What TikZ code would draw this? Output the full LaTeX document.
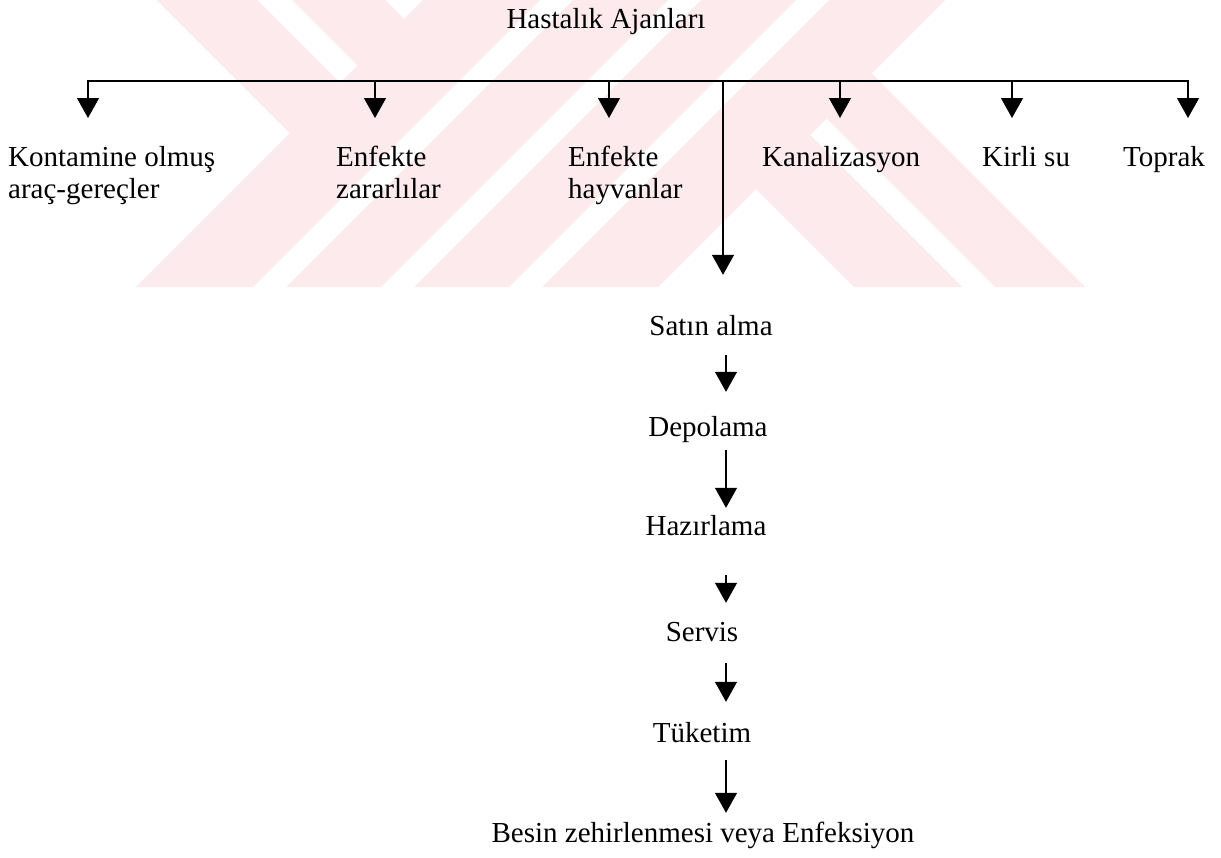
\documentclass[tikz,border=0pt]{standalone}
\usepackage{fontspec}
\setmainfont{Liberation Serif}
\usetikzlibrary{arrows.meta}
\definecolor{wmpink}{RGB}{252,234,237}
\begin{document}
\begin{tikzpicture}[x=1pt,y=-1pt,
  lbl/.style={font=\fontsize{29}{32}\selectfont, inner sep=0pt, align=left, anchor=north west},
  stage/.style={font=\fontsize{29}{32}\selectfont, inner sep=0pt, text height=20pt, text depth=0pt, anchor=base},
  link/.style={line width=1.2pt, -{Triangle[width=22pt,length=20pt]}},
  bar/.style={line width=1.2pt, line cap=rect}]
\useasboundingbox (0,0) rectangle (1221,857);
\fill[white] (0,0) rectangle (1221,857);

% striped background emblem
\fill[wmpink] (157,0) -- (257,0) -- (340,83) -- (290,133) -- cycle;
\fill[wmpink] (292,0) -- (385,0) -- (404,19) -- (357.5,65.5) -- cycle;
\fill[wmpink] (423,0) -- (540,0) -- (253,287) -- (136,287) -- cycle;
\fill[wmpink] (573,0) -- (668,0) -- (381,287) -- (286,287) -- cycle;
\fill[wmpink] (701,0) -- (796,0) -- (509,287) -- (414,287) -- cycle;
\fill[wmpink] (829,0) -- (945,0) -- (658,287) -- (542,287) -- cycle;
\fill[wmpink] (756,189) -- (810,135) -- (962,287) -- (854,287) -- cycle;
\fill[wmpink] (826.5,118.5) -- (871.5,73.5) -- (1085,287) -- (995,287) -- cycle;

% title and sources
\node[stage] (title) at (606,28) {Hastalık Ajanları};
\node[lbl] (kont) at (8,146) {Kontamine olmuş\\araç-gereçler};
\node[lbl] (zar) at (336,146) {Enfekte\\zararlılar};
\node[lbl] (hay) at (568,146) {Enfekte\\hayvanlar};
\node[lbl] (kan) at (762,146) {Kanalizasyon};
\node[lbl] (kir) at (982,146) {Kirli su};
\node[lbl] (tpr) at (1123,146) {Toprak};

% food chain stages
\node[stage] (s1) at (711,335) {Satın alma};
\node[stage] (s2) at (708,436) {Depolama};
\node[stage] (s3) at (706,535) {Hazırlama};
\node[stage] (s4) at (702,641) {Servis};
\node[stage] (s5) at (702,742) {Tüketim};
\node[stage] (s6) at (703,842) {Besin zehirlenmesi veya Enfeksiyon};

% distribution bar
\coordinate (b1) at (88,81);
\coordinate (b2) at (375,81);
\coordinate (b3) at (609,81);
\coordinate (bs) at (723,81);
\coordinate (b4) at (840,81);
\coordinate (b5) at (1012,81);
\coordinate (b6) at (1188,81);
\coordinate (cx) at (726,0);
\draw[bar] (b1) -- (b6);

\draw[link, shorten >=28pt] (b1) -- (b1 |- kont.north);
\draw[link, shorten >=28pt] (b2) -- (b2 |- zar.north);
\draw[link, shorten >=28pt] (b3) -- (b3 |- hay.north);
\draw[link, shorten >=28pt] (b4) -- (b4 |- kan.north);
\draw[link, shorten >=28pt] (b5) -- (b5 |- kir.north);
\draw[link, shorten >=28pt] (b6) -- (b6 |- tpr.north);
\draw[link, shorten >=40pt] (bs) -- (bs |- s1.north);

\draw[link, shorten <=20pt, shorten >=24pt] (s1.south -| cx) -- (s2.north -| cx);
\draw[link, shorten <=14pt, shorten >=7pt] (s2.south -| cx) -- (s3.north -| cx);
\draw[link, shorten <=40pt, shorten >=18pt] (s3.south -| cx) -- (s4.north -| cx);
\draw[link, shorten <=22pt, shorten >=20pt] (s4.south -| cx) -- (s5.north -| cx);
\draw[link, shorten <=18pt, shorten >=9pt] (s5.south -| cx) -- (s6.north -| cx);
\end{tikzpicture}
\end{document}
